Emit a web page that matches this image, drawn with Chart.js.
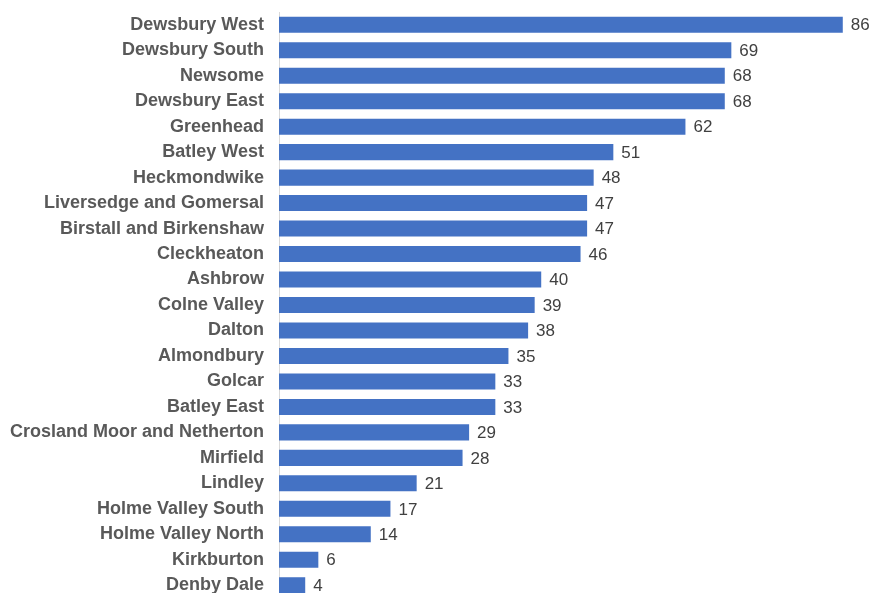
<!DOCTYPE html>
<html lang="en">
<head>
  <meta charset="UTF-8">
  <title>Wards</title>
  <script src="https://cdn.jsdelivr.net/npm/chart.js"></script>
  <style>
    html, body { margin: 0; padding: 0; background: #fff; overflow: hidden; }
    #wrap { width: 872px; height: 612px; }
  </style>
</head>
<body>
  <div id="wrap">
    <canvas id="grafico" width="872" height="612"></canvas>
  </div>

  <script>
    const wards = [
      "Dewsbury West", "Dewsbury South", "Newsome", "Dewsbury East", "Greenhead",
      "Batley West", "Heckmondwike", "Liversedge and Gomersal", "Birstall and Birkenshaw",
      "Cleckheaton", "Ashbrow", "Colne Valley", "Dalton", "Almondbury", "Golcar",
      "Batley East", "Crosland Moor and Netherton", "Mirfield", "Lindley",
      "Holme Valley South", "Holme Valley North", "Kirkburton", "Denby Dale"
    ];
    const totals = [86, 69, 68, 68, 62, 51, 48, 47, 47, 46, 40, 39, 38, 35, 33, 33, 29, 28, 21, 17, 14, 6, 4];

    // number at the end of each bar
    const valueLabels = {
      id: "valueLabels",
      afterDatasetsDraw(chart) {
        const ctx = chart.ctx;
        const meta = chart.getDatasetMeta(0);
        ctx.save();
        ctx.font = "17px 'Liberation Sans', Arial, sans-serif";
        ctx.fillStyle = "#404040";
        ctx.textAlign = "left";
        ctx.textBaseline = "middle";
        meta.data.forEach((bar, i) => {
          ctx.fillText(String(totals[i]), bar.x + 8, bar.y + 1);
        });
        ctx.restore();
      }
    };

    const ctx = document.getElementById("grafico").getContext("2d");
    new Chart(ctx, {
      type: "bar",
      data: {
        labels: wards,
        datasets: [{
          data: totals,
          backgroundColor: "#4472C4",
          borderWidth: 0,
          barPercentage: 1,
          categoryPercentage: 0.63
        }]
      },
      options: {
        indexAxis: "y",
        responsive: false,
        animation: false,
        layout: { padding: { top: 12, bottom: 14, left: 0, right: 3 } },
        plugins: {
          legend: { display: false },
          tooltip: { enabled: false }
        },
        scales: {
          x: {
            display: false,
            min: 0,
            max: 90
          },
          y: {
            afterFit(scale) {
              scale.width = 279;
              // the tick padding would otherwise push the plot area down
              scale.paddingTop = 0;
              scale.paddingBottom = 0;
            },
            grid: { display: false, drawTicks: false },
            border: { display: true, color: "#d9d9d9", width: 1 },
            ticks: {
              padding: 15,
              color: "#595959",
              font: { family: "'Liberation Sans', Arial, sans-serif", size: 18, weight: "bold" }
            }
          }
        }
      },
      plugins: [valueLabels]
    });
  </script>
</body>
</html>
